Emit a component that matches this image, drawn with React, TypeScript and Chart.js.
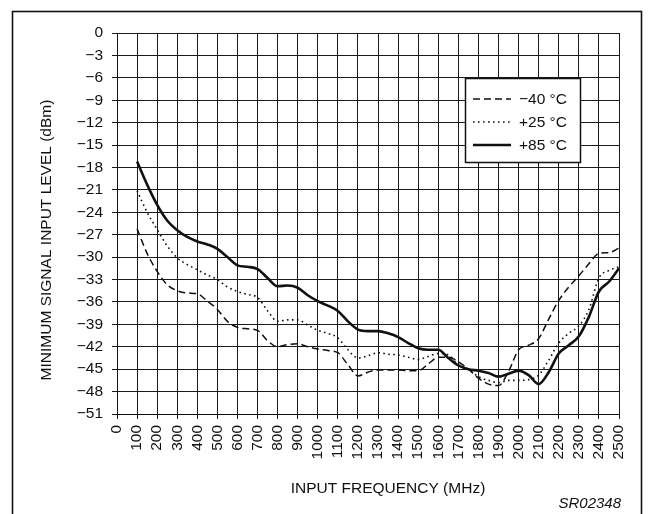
import React, { useEffect, useRef } from 'react';
import { Chart, registerables } from 'chart.js';

Chart.register(...registerables);

const FREQ_MHZ = [
  100, 150, 200, 250, 300, 350, 400, 450, 500, 550, 600, 650, 700, 750, 800, 850, 900, 950,
  1000, 1050, 1100, 1150, 1200, 1250, 1300, 1350, 1400, 1450, 1500, 1550, 1600, 1650, 1700,
  1750, 1800, 1850, 1900, 1950, 2000, 2050, 2100, 2150, 2200, 2250, 2300, 2350, 2400, 2450, 2500,
];

const LEVEL_M40 = [
  -26.2, -29.5, -31.9, -33.7, -34.5, -34.8, -34.9, -35.9, -37.0, -38.6, -39.4, -39.6, -39.8,
  -41.2, -42.0, -41.7, -41.6, -42.0, -42.3, -42.5, -42.8, -44.4, -45.9, -45.4, -45.1, -45.1,
  -45.1, -45.2, -45.2, -44.3, -43.4, -43.4, -44.0, -45.0, -46.2, -47.0, -47.2, -45.3, -42.4,
  -41.8, -40.9, -38.3, -35.8, -34.0, -32.5, -30.9, -29.5, -29.4, -28.8,
];

const LEVEL_P25 = [
  -21.1, -24.0, -26.3, -28.5, -30.1, -31.0, -31.7, -32.4, -33.0, -34.0, -34.6, -35.0, -35.4,
  -37.2, -38.6, -38.4, -38.4, -39.1, -39.8, -40.2, -40.8, -42.4, -43.5, -43.2, -42.8, -43.0,
  -43.1, -43.4, -43.7, -43.3, -42.9, -43.1, -44.4, -45.0, -46.0, -46.5, -46.8, -46.5, -46.5,
  -46.4, -45.8, -43.8, -41.5, -40.2, -39.2, -37.0, -32.8, -31.8, -31.3,
];

const LEVEL_P85 = [
  -17.2, -20.3, -23.0, -25.1, -26.4, -27.3, -27.9, -28.3, -28.9, -30.0, -31.1, -31.3, -31.6,
  -32.8, -33.9, -33.8, -34.1, -35.1, -35.9, -36.5, -37.2, -38.6, -39.7, -39.9, -39.9, -40.2,
  -40.7, -41.5, -42.2, -42.4, -42.4, -43.5, -44.5, -45.0, -45.2, -45.5, -46.0, -45.6, -45.2,
  -45.8, -47.0, -45.4, -42.9, -41.8, -40.6, -38.0, -34.6, -33.3, -31.5,
];

const SERIES_LABELS = ['\u221240 \u00b0C', '+25 \u00b0C', '+85 \u00b0C'];
const X_TITLE = 'INPUT FREQUENCY (MHz)';
const Y_TITLE = 'MINIMUM SIGNAL INPUT LEVEL (dBm)';
const CODE_LABEL = 'SR02348';

const FONT = '"Liberation Sans", Arial, Helvetica, sans-serif';
const INK = '#111111';

const pts = (vals: number[]) => FREQ_MHZ.map((f, i) => ({ x: f, y: vals[i] }));

const STYLES = [
  { borderWidth: 1.5, borderDash: [7, 4] },
  { borderWidth: 1.6, borderDash: [1.6, 3.4] },
  { borderWidth: 2.6, borderDash: [] as number[] },
];

const decorPlugin = {
  id: 'decor',
  afterDraw(chart: any) {
    const ctx = chart.ctx as CanvasRenderingContext2D;
    ctx.save();
    // outer frame
    ctx.strokeStyle = INK;
    ctx.lineWidth = 1.6;
    ctx.strokeRect(12.5, 11.5, 629, 600);

    // axis titles
    ctx.fillStyle = INK;
    ctx.font = `15.5px ${FONT}`;
    ctx.textAlign = 'center';
    ctx.textBaseline = 'middle';
    ctx.fillText(X_TITLE, 388, 489);
    ctx.save();
    ctx.translate(47, 240);
    ctx.rotate(-Math.PI / 2);
    ctx.fillText(Y_TITLE, 0, 0);
    ctx.restore();

    ctx.font = `italic 15px ${FONT}`;
    ctx.textAlign = 'right';
    ctx.fillText(CODE_LABEL, 621, 504);

    // legend
    const bx = 465, by = 78, bw = 115, bh = 84;
    ctx.fillStyle = '#ffffff';
    ctx.fillRect(bx, by, bw, bh);
    ctx.strokeStyle = INK;
    ctx.lineWidth = 1.5;
    ctx.strokeRect(bx + 0.5, by + 0.5, bw, bh);
    const rows = [99, 122, 145];
    rows.forEach((ry, i) => {
      ctx.beginPath();
      ctx.lineWidth = STYLES[i].borderWidth;
      ctx.setLineDash(STYLES[i].borderDash);
      ctx.moveTo(473, ry);
      ctx.lineTo(511, ry);
      ctx.stroke();
      ctx.setLineDash([]);
      ctx.fillStyle = INK;
      ctx.font = `15.5px ${FONT}`;
      ctx.textAlign = 'left';
      ctx.textBaseline = 'middle';
      ctx.fillText(SERIES_LABELS[i], 519, ry + 1);
    });
    ctx.restore();
  },
};

export default function App() {
  const ref = useRef<HTMLCanvasElement>(null);

  useEffect(() => {
    if (!ref.current) return;
    const datasets = [LEVEL_M40, LEVEL_P25, LEVEL_P85].map((vals, i) => ({
      label: SERIES_LABELS[i],
      data: pts(vals),
      borderColor: INK,
      backgroundColor: INK,
      borderWidth: STYLES[i].borderWidth,
      borderDash: STYLES[i].borderDash,
      pointRadius: 0,
      cubicInterpolationMode: 'monotone' as const,
      fill: false,
    }));

    const chart = new Chart(ref.current, {
      type: 'line',
      data: { datasets },
      options: {
        animation: false,
        responsive: false,
        devicePixelRatio: 1,
        layout: { padding: { left: 0, top: 33, right: 35, bottom: 0 } },
        plugins: {
          legend: { display: false },
          tooltip: { enabled: false },
        },
        scales: {
          x: {
            type: 'linear',
            min: 0,
            max: 2500,
            afterFit: (s: any) => {
              s.height = 100;
            },
            ticks: {
              stepSize: 100,
              autoSkip: false,
              minRotation: 90,
              maxRotation: 90,
              padding: 6,
              color: INK,
              font: { family: FONT, size: 15.5 },
              callback: (v: any) => String(v),
            },
            grid: { color: '#1a1a1a', lineWidth: 1, tickLength: 5 },
            border: { display: true, color: INK, width: 1 },
          },
          y: {
            type: 'linear',
            min: -51,
            max: 0,
            afterFit: (s: any) => {
              s.width = 117;
            },
            ticks: {
              stepSize: 3,
              padding: 9,
              color: INK,
              font: { family: FONT, size: 15.5 },
              callback: (v: any) => (v === 0 ? '0' : '\u2212' + Math.abs(v)),
            },
            grid: { color: '#1a1a1a', lineWidth: 1, tickLength: 5 },
            border: { display: true, color: INK, width: 1 },
          },
        },
      },
      plugins: [decorPlugin],
    });
    return () => chart.destroy();
  }, []);

  return (
    <div style={{ position: 'absolute', left: 0, top: 0, width: 654, height: 514, background: '#fff' }}>
      <canvas ref={ref} width={654} height={514} style={{ display: 'block' }} />
    </div>
  );
}
